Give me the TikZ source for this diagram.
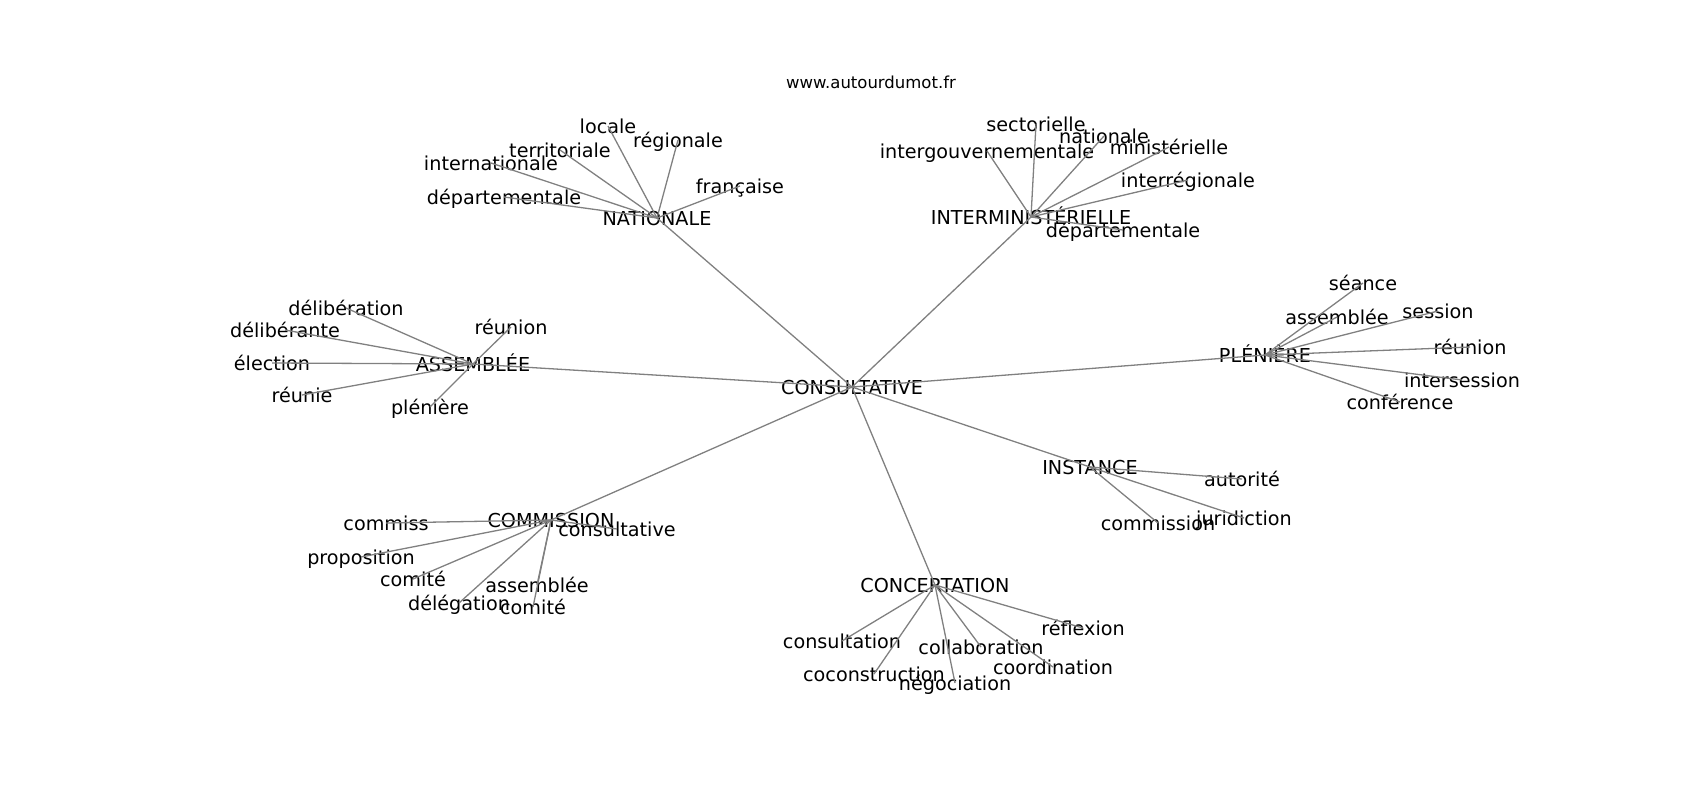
\documentclass[tikz,border=0pt]{standalone}
\usepackage{fontspec}
\setmainfont{DejaVu Sans}
\begin{document}
\begin{tikzpicture}[x=1pt,y=-1pt,
  word/.style={inner sep=0pt, anchor=center, text height=14.2pt, text depth=0pt, font=\fontsize{19.2}{22}\selectfont},
  edge/.style={draw=gray, line width=1.3pt}]
\useasboundingbox (0,0) rectangle (1700,800);
% title
\node[inner sep=0pt, font=\fontsize{16.5}{19}\selectfont] (title) at (871,82) {www.autourdumot.fr};
% nodes
\node[word] (c) at (852,387) {CONSULTATIVE};
\node[word] (nat) at (657,218) {NATIONALE};
\node[word] (nat1) at (608,126) {locale};
\node[word] (nat2) at (678,140) {régionale};
\node[word] (nat3) at (560,150) {territoriale};
\node[word] (nat4) at (491,163) {internationale};
\node[word] (nat5) at (504,197) {départementale};
\node[word] (nat6) at (740,186) {française};
\node[word] (int) at (1031,217) {INTERMINISTÉRIELLE};
\node[word] (int1) at (1036,124) {sectorielle};
\node[word] (int2) at (1104,136) {nationale};
\node[word] (int3) at (987,151) {intergouvernementale};
\node[word] (int4) at (1169,147) {ministérielle};
\node[word] (int5) at (1188,180) {interrégionale};
\node[word] (int6) at (1123,230) {départementale};
\node[word] (ass) at (473,364) {ASSEMBLÉE};
\node[word] (ass1) at (346,308) {délibération};
\node[word] (ass2) at (285,330) {délibérante};
\node[word] (ass3) at (272,363) {élection};
\node[word] (ass4) at (302,395) {réunie};
\node[word] (ass5) at (511,327) {réunion};
\node[word] (ass6) at (430,407) {plénière};
\node[word] (ple) at (1265,355) {PLÉNIÈRE};
\node[word] (ple1) at (1363,283) {séance};
\node[word] (ple2) at (1337,317) {assemblée};
\node[word] (ple3) at (1438,311) {session};
\node[word] (ple4) at (1470,347) {réunion};
\node[word] (ple5) at (1462,380) {intersession};
\node[word] (ple6) at (1400,402) {conférence};
\node[word] (ins) at (1090,467) {INSTANCE};
\node[word] (ins1) at (1242,479) {autorité};
\node[word] (ins2) at (1244,518) {juridiction};
\node[word] (ins3) at (1158,523) {commission};
\node[word] (com) at (551,520) {COMMISSION};
\node[word] (com1) at (386,523) {commiss};
\node[word] (com2) at (361,557) {proposition};
\node[word] (com3) at (413,579) {comité};
\node[word] (com4) at (459,603) {délégation};
\node[word] (com5) at (537,585) {assemblée};
\node[word] (com6) at (533,607) {comité};
\node[word] (com7) at (617,529) {consultative};
\node[word] (con) at (935,585) {CONCERTATION};
\node[word] (con1) at (842,641) {consultation};
\node[word] (con2) at (874,674) {coconstruction};
\node[word] (con3) at (955,683) {négociation};
\node[word] (con4) at (981,647) {collaboration};
\node[word] (con5) at (1053,667) {coordination};
\node[word] (con6) at (1083,628) {réflexion};
% edges
\begin{scope}[on background layer/.style={}]
\foreach \h in {nat,int,ass,ple,ins,com,con}
  \draw[edge] (c.center) -- (\h.center);
\foreach \i in {1,...,6} {
  \draw[edge] (nat.center) -- (nat\i.center);
  \draw[edge] (int.center) -- (int\i.center);
  \draw[edge] (ass.center) -- (ass\i.center);
  \draw[edge] (ple.center) -- (ple\i.center);
  \draw[edge] (con.center) -- (con\i.center);
}
\foreach \i in {1,2,3}
  \draw[edge] (ins.center) -- (ins\i.center);
\foreach \i in {1,...,7}
  \draw[edge] (com.center) -- (com\i.center);
\end{scope}
\end{tikzpicture}
\end{document}
